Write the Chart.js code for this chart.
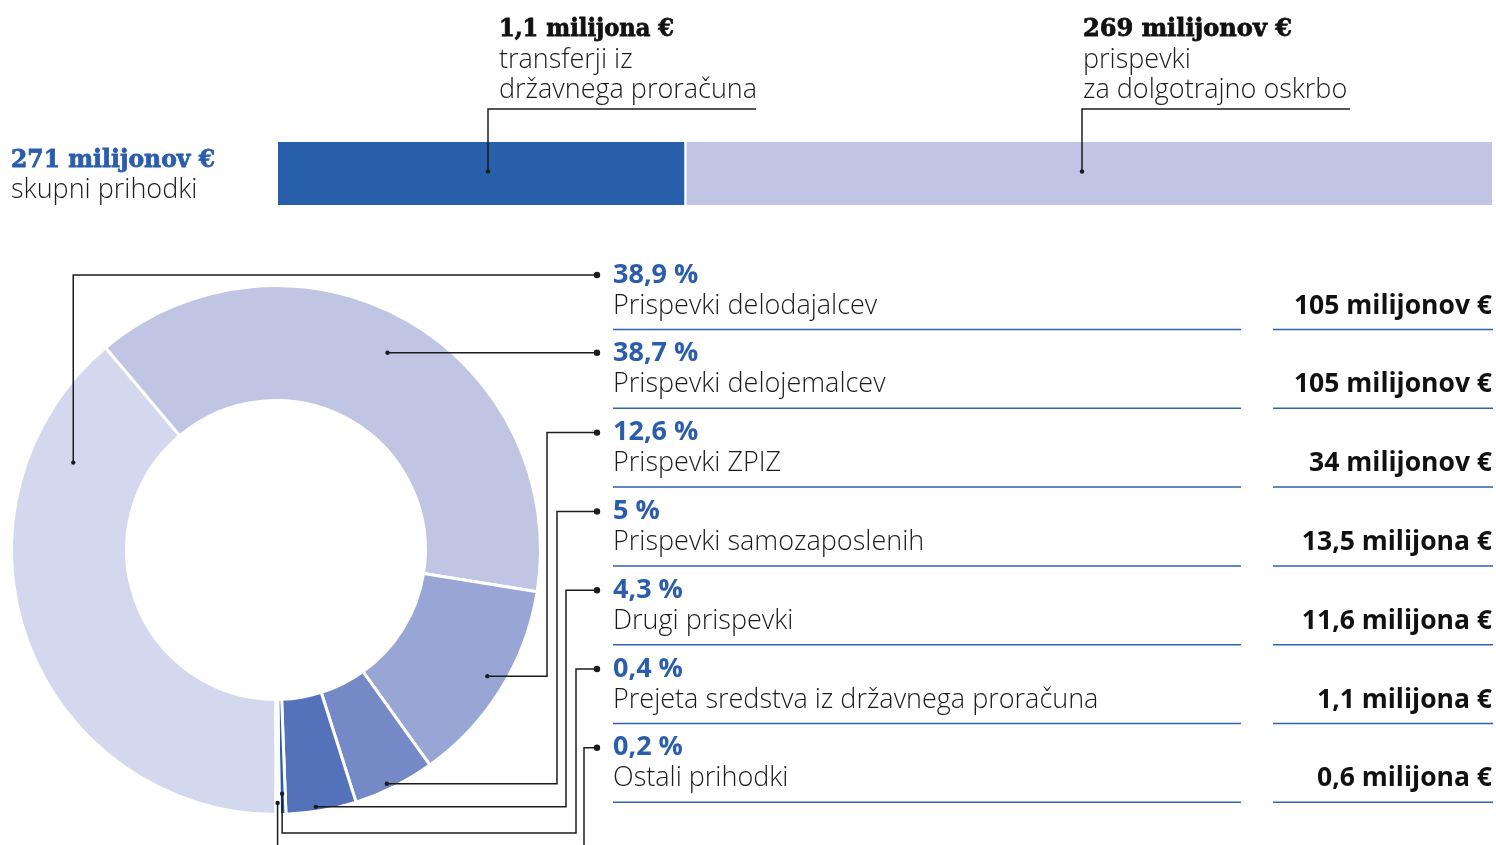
<!DOCTYPE html>
<html>
<head>
<meta charset="utf-8">
<script src="https://cdn.jsdelivr.net/npm/chart.js@4.4.1/dist/chart.umd.min.js"></script>
<style>
  html, body { margin: 0; padding: 0; background: #fff; }
  #wrap { position: relative; width: 1496px; height: 845px; overflow: hidden; }
  canvas { position: absolute; left: 0; top: 0; }
</style>
</head>
<body>
<div id="wrap">
  <canvas id="pie" width="1496" height="845"></canvas>
  <canvas id="bar" width="1496" height="230"></canvas>
</div>
<script>
// doughnut data
const categories = [
  'Prispevki delodajalcev',
  'Prispevki delojemalcev',
  'Prispevki ZPIZ',
  'Prispevki samozaposlenih',
  'Drugi prispevki',
  'Prejeta sredstva iz državnega proračuna',
  'Ostali prihodki'
];
const shares = [38.9, 38.7, 12.6, 5, 4.3, 0.4, 0.2];
const shareLabels = ['38,9 %', '38,7 %', '12,6 %', '5 %', '4,3 %', '0,4 %', '0,2 %'];
const amountLabels = ['105 milijonov €', '105 milijonov €', '34 milijonov €', '13,5 milijona €',
  '11,6 milijona €', '1,1 milijona €', '0,6 milijona €'];
const sliceColors = ['#d4d8ee', '#c1c5e4', '#98a6d6', '#7589c6', '#5372b9', '#265fac', '#f4f5fb'];

// top bar data
const totalLabel = '271 milijonov €';
const totalName = 'skupni prihodki';
const sourceValues = [1.1, 269];
const sourceLabels = ['1,1 milijona €', '269 milijonov €'];
const sourceNames = [['transferji iz', 'državnega proračuna'], ['prispevki', 'za dolgotrajno oskrbo']];
const sourceColors = ['#275fab', '#c1c5e3'];

const BLUE = '#2a5dab';
const INK = '#1c1c1c';
const SLAB = "'DejaVu Serif', 'Liberation Serif', serif";
const SANS = "'Open Sans', sans-serif";

function dot(ctx, x, y, r) {
  ctx.beginPath();
  ctx.arc(x, y, r, 0, Math.PI * 2);
  ctx.fill();
}

// heavy slab headline: fill plus a thin stroke to thicken it
function slab(ctx, text, x, y, maxW, color) {
  ctx.font = 'bold 25px ' + SLAB;
  ctx.fillStyle = color;
  ctx.strokeStyle = color;
  ctx.lineWidth = 0.8;
  ctx.fillText(text, x, y, maxW);
  ctx.strokeText(text, x, y, maxW);
}

// where the leader lines leave each slice and how they reach the labels
const leaders = [
  { t: 0.81, r: 0.62, route: 'v' },
  { t: 0.5,  r: 0.67, route: 'h' },
  { t: 0.48, r: 0.84, route: 'hvh', ex: 547 },
  { t: 0.57, r: 0.95, route: 'hvh', ex: 557 },
  { t: 0.57, r: 0.96, route: 'hvh', ex: 566 },
  { t: 0.5,  r: 0.82, route: 'vhvh', ey: 833, ex: 576 },
  { t: 0.5,  r: 0.9,  route: 'vhvh', ey: 870, ex: 584 }
];

const tablePlugin = {
  id: 'table',
  afterDraw(chart) {
    const ctx = chart.ctx;
    const meta = chart.getDatasetMeta(0);
    const row0 = 275, rowH = 78.8, labelX = 613, endX = 597;
    ctx.save();

    // rows of text and separators
    categories.forEach((name, i) => {
      const y = row0 + i * rowH;
      ctx.textBaseline = 'middle';
      ctx.textAlign = 'left';
      ctx.fillStyle = BLUE;
      ctx.font = 'bold 27px ' + SANS;
      ctx.fillText(shareLabels[i], labelX, y);
      ctx.fillStyle = INK;
      ctx.font = '300 27px ' + SANS;
      ctx.fillText(name, labelX, y + 31);
      ctx.textAlign = 'right';
      ctx.fillStyle = '#111';
      ctx.font = 'bold 26.5px ' + SANS;
      ctx.fillText(amountLabels[i], 1492, y + 31);

      ctx.strokeStyle = '#2f62b1';
      ctx.lineWidth = 1.5;
      ctx.beginPath();
      ctx.moveTo(labelX, y + 54.5); ctx.lineTo(1241, y + 54.5);
      ctx.moveTo(1273, y + 54.5); ctx.lineTo(1493, y + 54.5);
      ctx.stroke();
    });

    // leader lines
    ctx.strokeStyle = INK;
    ctx.fillStyle = INK;
    ctx.lineWidth = 1.5;
    meta.data.forEach((arc, i) => {
      const p = arc.getProps(['x', 'y', 'startAngle', 'endAngle', 'innerRadius', 'outerRadius'], true);
      const L = leaders[i];
      const a = p.startAngle + (p.endAngle - p.startAngle) * L.t;
      const rr = p.innerRadius + (p.outerRadius - p.innerRadius) * L.r;
      const sx = p.x + Math.cos(a) * rr, sy = p.y + Math.sin(a) * rr;
      const ty = row0 + i * rowH;
      let pts;
      if (L.route === 'v') pts = [[sx, sy], [sx, ty], [endX, ty]];
      else if (L.route === 'h') pts = [[sx, sy], [endX, sy]];
      else if (L.route === 'hvh') pts = [[sx, sy], [L.ex, sy], [L.ex, ty], [endX, ty]];
      else pts = [[sx, sy], [sx, L.ey], [L.ex, L.ey], [L.ex, ty], [endX, ty]];
      ctx.beginPath();
      pts.forEach((q, k) => k ? ctx.lineTo(q[0], q[1]) : ctx.moveTo(q[0], q[1]));
      ctx.stroke();
      dot(ctx, sx, sy, 2.2);
      const last = pts[pts.length - 1];
      dot(ctx, last[0], last[1], 3.2);
    });
    ctx.restore();
  }
};

new Chart(document.getElementById('pie'), {
  type: 'doughnut',
  data: {
    labels: categories,
    datasets: [{
      data: shares,
      backgroundColor: sliceColors,
      borderColor: '#ffffff',
      borderWidth: 3,
      hoverOffset: 0
    }]
  },
  options: {
    responsive: false,
    animation: false,
    events: [],
    rotation: 180,
    cutout: '56.5%',
    layout: { padding: { left: 10, top: 284, right: 954, bottom: 29 } },
    plugins: { legend: { display: false }, tooltip: { enabled: false } }
  },
  plugins: [tablePlugin]
});

// top bar labels
const anchorX = [488, 1082];
const textX = [499, 1083];
const topPlugin = {
  id: 'topLabels',
  afterDraw(chart) {
    const ctx = chart.ctx;
    ctx.save();
    ctx.textBaseline = 'middle';
    ctx.textAlign = 'left';

    slab(ctx, totalLabel, 11, 160, 204, BLUE);
    ctx.fillStyle = INK;
    ctx.font = '300 27px ' + SANS;
    ctx.fillText(totalName, 11, 190);

    const maxW = [175, 209];
    sourceValues.forEach((v, i) => {
      const el = chart.getDatasetMeta(i).data[0];
      const ax = anchorX[i];
      ctx.strokeStyle = INK;
      ctx.fillStyle = INK;
      ctx.lineWidth = 1.5;
      ctx.beginPath();
      ctx.moveTo(ax, el.y - 2);
      ctx.lineTo(ax, 109);
      ctx.lineTo(ax + 268, 109);
      ctx.stroke();
      dot(ctx, ax, el.y - 2, 2.2);

      slab(ctx, sourceLabels[i], textX[i], 29.5, maxW[i], '#111');
      ctx.fillStyle = INK;
      ctx.font = '300 27px ' + SANS;
      ctx.fillText(sourceNames[i][0], textX[i], 60);
      ctx.fillText(sourceNames[i][1], textX[i], 90);
    });
    ctx.restore();
  }
};

const total = sourceValues.reduce((s, v) => s + v, 0);
new Chart(document.getElementById('bar'), {
  type: 'bar',
  data: {
    labels: ['prihodki'],
    datasets: sourceValues.map((v, i) => ({
      data: [v],
      backgroundColor: sourceColors[i],
      borderColor: '#ffffff',
      borderWidth: i ? { left: 3 } : 0,
      borderSkipped: false,
      categoryPercentage: 1,
      barPercentage: 1
    }))
  },
  options: {
    indexAxis: 'y',
    responsive: false,
    animation: false,
    events: [],
    layout: { padding: { left: 278, right: 4, top: 142, bottom: 25 } },
    plugins: { legend: { display: false }, tooltip: { enabled: false } },
    scales: {
      // log scale keeps the small transfer visible, as in the original
      x: { type: 'logarithmic', stacked: true, display: false, min: 0.0693, max: total },
      y: { stacked: true, display: false }
    }
  },
  plugins: [topPlugin]
});
</script>
</body>
</html>
